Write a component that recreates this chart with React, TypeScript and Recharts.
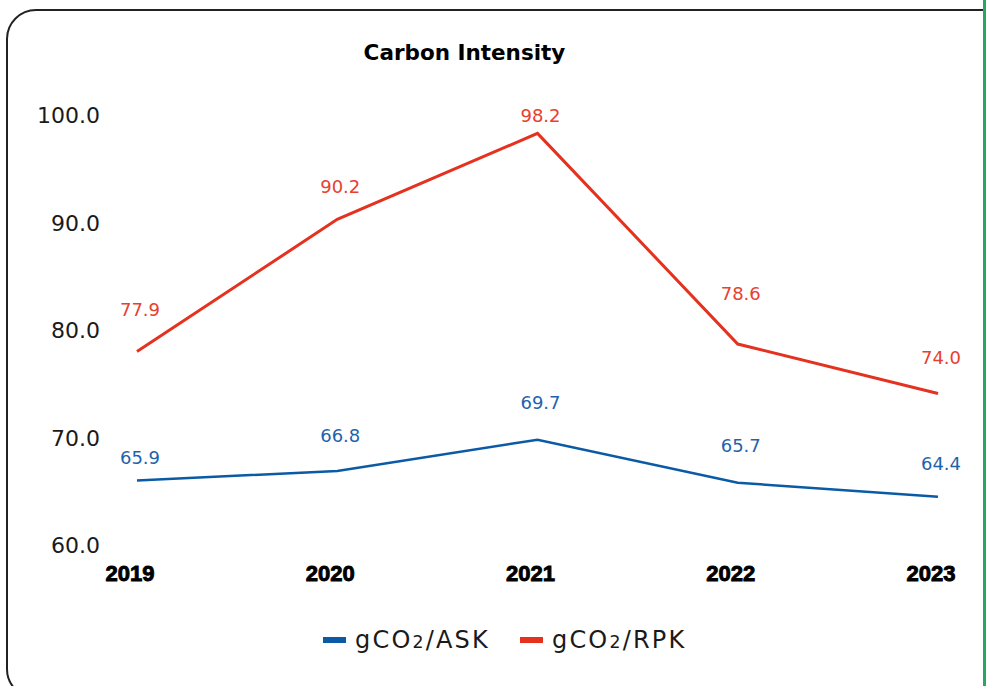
import React from 'react';
import { LineChart, Line, XAxis, YAxis } from 'recharts';

const years = ['2019', '2020', '2021', '2022', '2023'];
const askValues = [65.9, 66.8, 69.7, 65.7, 64.4];
const rpkValues = [77.9, 90.2, 98.2, 78.6, 74.0];
const yTicks = [60, 70, 80, 90, 100];

// how far each value label sits above its point (px)
const askLabelLift = [17, 29, 31, 31, 27];
const rpkLabelLift = [36, 26, 11, 44, 30];

const ASK_COLOR = '#0b5aa6';
const RPK_COLOR = '#e4321f';

const data = years.map((year, i) => ({ year, ask: askValues[i], rpk: rpkValues[i] }));

const makeLabel = (color: string, lift: number[]) => (props: any) => {
  const { x, y, value, index } = props;
  return (
    <text
      x={x + 3}
      y={y - lift[index]}
      textAnchor="middle"
      fill={color}
      fontSize={18}
      fontFamily="DejaVu Sans"
    >
      {Number(value).toFixed(1)}
    </text>
  );
};

const YearTick = (props: any) => {
  const { x, y, payload } = props;
  return (
    <text
      x={x - 7}
      y={y}
      dy={16}
      textAnchor="middle"
      fill="#000"
      stroke="#000"
      strokeWidth={0.9}
      fontSize={22}
      fontWeight={700}
      fontFamily="Liberation Sans"
    >
      {payload.value}
    </text>
  );
};

const ValueTick = (props: any) => {
  const { x, y, payload } = props;
  return (
    <text
      x={x}
      y={y}
      dy={9}
      textAnchor="end"
      fill="#1a1a1a"
      fontSize={22}
      fontFamily="DejaVu Sans"
    >
      {Number(payload.value).toFixed(1)}
    </text>
  );
};

const legendItems = [
  { unit: 'ASK', color: ASK_COLOR },
  { unit: 'RPK', color: RPK_COLOR },
];

export default function App() {
  return (
    <div
      style={{
        position: 'fixed',
        left: 0,
        top: 0,
        width: 988,
        height: 686,
        background: '#fff',
        overflow: 'hidden',
      }}
    >
      {/* rounded panel frame, right side runs off past the edge */}
      <div
        style={{
          position: 'absolute',
          left: 6,
          top: 9,
          width: 1040,
          height: 690,
          border: '2px solid #222',
          borderRadius: 30,
          boxSizing: 'border-box',
        }}
      />
      <div style={{ position: 'absolute', left: 986, top: 0, width: 4, height: 686, background: '#fff' }} />
      {/* green rule on the right edge */}
      <div style={{ position: 'absolute', left: 983, top: 0, width: 3, height: 686, background: '#27a862' }} />

      <div
        style={{
          position: 'absolute',
          left: 0,
          top: 42,
          width: 929,
          textAlign: 'center',
          fontFamily: 'DejaVu Sans',
          fontWeight: 700,
          fontSize: 21.5,
          lineHeight: 1,
          color: '#000',
        }}
      >
        Carbon Intensity
      </div>

      <div style={{ position: 'absolute', left: 0, top: 0 }}>
        <LineChart width={988} height={686} data={data} margin={{ top: 114, right: 13, bottom: 102, left: 0 }}>
          <XAxis
            dataKey="year"
            axisLine={false}
            tickLine={false}
            tickSize={0}
            tickMargin={21}
            height={40}
            padding={{ left: 37, right: 37 }}
            tick={<YearTick />}
            interval={0}
          />
          <YAxis
            domain={[60, 100]}
            ticks={yTicks}
            axisLine={false}
            tickLine={false}
            tickSize={0}
            tickMargin={0}
            width={100}
            tick={<ValueTick />}
            interval={0}
          />
          <Line
            dataKey="ask"
            stroke={ASK_COLOR}
            strokeWidth={2.5}
            dot={false}
            isAnimationActive={false}
            label={makeLabel('#1f63ad', askLabelLift)}
          />
          <Line
            dataKey="rpk"
            stroke={RPK_COLOR}
            strokeWidth={3}
            dot={false}
            isAnimationActive={false}
            label={makeLabel('#e8402f', rpkLabelLift)}
          />
        </LineChart>
      </div>

      <div
        style={{
          position: 'absolute',
          left: 323,
          top: 628,
          display: 'flex',
          alignItems: 'center',
          fontFamily: 'DejaVu Sans',
          fontSize: 24,
          letterSpacing: 2.2,
          color: '#1a1a1a',
          lineHeight: 1,
        }}
      >
        {legendItems.map((item, i) => (
          <div key={item.unit} style={{ display: 'flex', alignItems: 'center', marginRight: i === 0 ? 30 : 0 }}>
            <span style={{ display: 'inline-block', width: 23, height: 6, background: item.color, marginRight: 9 }} />
            <span>
              gCO<span style={{ fontSize: '0.72em' }}>2</span>/{item.unit}
            </span>
          </div>
        ))}
      </div>
    </div>
  );
}
